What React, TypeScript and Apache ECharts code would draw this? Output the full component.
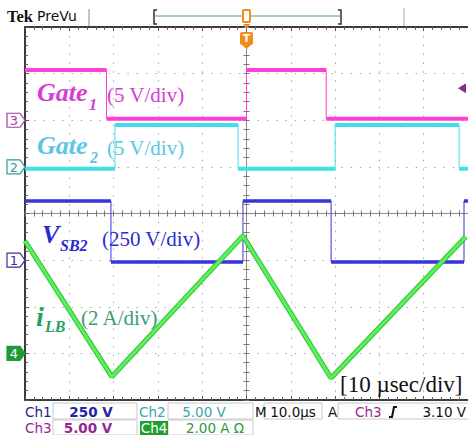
import React, { useEffect, useRef } from "react";
import * as echarts from "echarts";

// time in µs (10 µs/div, 10 divisions), vertical values in divisions (8 divisions, centre = 0)
const gate1Time = [0, 18.4, 18.4, 50, 50, 68, 68, 100];
const gate1Div = [3.08, 3.08, 2.03, 2.03, 3.08, 3.08, 2.03, 2.03];
const gate2Time = [0, 20.3, 20.3, 48.1, 48.1, 70, 70, 98, 98, 100];
const gate2Div = [0.96, 0.96, 1.9, 1.9, 0.96, 0.96, 1.9, 1.9, 0.96, 0.96];
const vsb2Time = [0, 19.4, 19.4, 49.2, 49.2, 69.1, 69.1, 99.1, 99.1, 100];
const vsb2Div = [0.27, 0.27, -1.04, -1.04, 0.27, 0.27, -1.04, -1.04, 0.27, 0.27];
const ilbTime = [0, 19.6, 49.2, 69.1, 99.5];
const ilbDiv = [-0.59, -3.5, -0.48, -3.53, -0.5];

const channelNames = ["3", "2", "1", "4"];
const channelOffsets = [2, 1, -1, -3];
const triggerLevelDiv = 2 + 3.1 / 5;

const row1Labels = ["Ch1", "Ch2", "M", "A"];
const row1Values = ["250 V", "5.00 V", "10.0µs", "3.10 V"];
const row2Labels = ["Ch3", "Ch4"];
const row2Values = ["5.00 V", "2.00 A Ω"];

const pairs = (xs: number[], ys: number[]) => xs.map((x, i) => [x, ys[i]]);
// flat (level) parts of a step waveform, separated by gaps
const levels = (xs: number[], ys: number[]) => {
  const out: any[] = [];
  for (let i = 0; i < xs.length - 1; i++) {
    if (ys[i] === ys[i + 1]) {
      out.push([xs[i], ys[i]], [xs[i + 1], ys[i + 1]], null);
    }
  }
  return out;
};

const GRID = { left: 25, top: 27, width: 443, height: 373 };

export default function App() {
  const ref = useRef<HTMLDivElement>(null);
  useEffect(() => {
    if (!ref.current) return;
    const chart = echarts.init(ref.current, undefined, { renderer: "svg" });

    const dotted = (dash: number[]) => ({
      show: true,
      lineStyle: { color: "#a8a8a8", width: 1, type: dash },
    });
    const borderAxis = (extra: any) => ({
      type: "value",
      axisLine: { show: true, onZero: false, lineStyle: { color: "#3c3c3c", width: 2 } },
      axisTick: { show: true, inside: true, length: 4, lineStyle: { color: "#555" } },
      minorTick: { show: true, splitNumber: 5, length: 3, lineStyle: { color: "#666" } },
      axisLabel: { show: false },
      ...extra,
    });
    const centreAxis = (extra: any, inside: boolean) => ({
      type: "value",
      axisLine: { show: true, onZero: true, lineStyle: { color: "#8a8a8a", width: 1 } },
      axisTick: { show: true, inside, length: 3, lineStyle: { color: "#777" } },
      minorTick: { show: true, splitNumber: 5, length: 3, lineStyle: { color: "#777" } },
      axisLabel: { show: false },
      splitLine: { show: false },
      ...extra,
    });

    const font = (size: number, opts: any = {}) => ({
      fontSize: size,
      fontFamily: opts.family || "Liberation Serif",
      fontWeight: opts.weight || "normal",
      fontStyle: opts.style || "normal",
    });
    const txt = (text: string, x: number, y: number, fill: string, f: any, align = "left") => ({
      type: "text",
      x,
      y,
      silent: true,
      z: 50,
      style: {
        text,
        fill,
        ...f,
        align,
        verticalAlign: "middle",
        textAlign: align,
        textVerticalAlign: "middle",
      },
    });

    const steps = [
      { name: "Gate1", xs: gate1Time, ys: gate1Div, color: "#ff3fd6", width: 4 },
      { name: "Gate2", xs: gate2Time, ys: gate2Div, color: "#3fe0e8", width: 4 },
      { name: "VSB2", xs: vsb2Time, ys: vsb2Div, color: "#3535da", width: 3.5 },
    ];
    const series: any[] = [];
    steps.forEach((s, i) => {
      series.push({
        type: "line",
        name: s.name,
        xAxisIndex: 0,
        yAxisIndex: 0,
        data: pairs(s.xs, s.ys),
        symbol: "none",
        z: 10 + i,
        lineStyle: { color: s.color, width: 1 },
        itemStyle: { color: s.color },
      });
      series.push({
        type: "line",
        name: s.name + " level",
        xAxisIndex: 0,
        yAxisIndex: 0,
        data: levels(s.xs, s.ys),
        symbol: "none",
        connectNulls: false,
        z: 10 + i,
        lineStyle: { color: s.color, width: s.width },
        itemStyle: { color: s.color },
      });
    });
    series.push({
      type: "line",
      name: "iLB edge",
      xAxisIndex: 0,
      yAxisIndex: 0,
      data: pairs(ilbTime, ilbDiv),
      symbol: "none",
      z: 20,
      lineStyle: { color: "#2fc23a", width: 5 },
    });
    series.push({
      type: "line",
      name: "iLB",
      xAxisIndex: 0,
      yAxisIndex: 0,
      data: pairs(ilbTime, ilbDiv),
      symbol: "none",
      z: 21,
      lineStyle: { color: "#5ef05a", width: 3 },
    });

    chart.setOption({
      animation: false,
      backgroundColor: "#ffffff",
      grid: [GRID, GRID, GRID].map((g) => ({ ...g, containLabel: false })),
      xAxis: [
        borderAxis({ gridIndex: 0, min: 0, max: 100, interval: 10, position: "bottom", splitLine: dotted([1.5, 7.36]) }),
        borderAxis({ gridIndex: 0, min: 0, max: 100, interval: 10, position: "top", splitLine: { show: false } }),
        centreAxis({ gridIndex: 1, min: -50, max: 50, interval: 10 }, true),
        centreAxis({ gridIndex: 2, min: -50, max: 50, interval: 10 }, false),
      ],
      yAxis: [
        borderAxis({ gridIndex: 0, min: -4, max: 4, interval: 1, position: "left", splitLine: dotted([1.5, 7.8]) }),
        centreAxis({ gridIndex: 1, min: -4, max: 4, interval: 1 }, true),
        centreAxis({ gridIndex: 2, min: -4, max: 4, interval: 1 }, false),
      ],
      series,
    });

    const yPx = (v: number) => chart.convertToPixel({ yAxisIndex: 0 }, v) as number;
    const chColors = [
      { stroke: "#a23ea2", fill: "#ffffff", text: "#a23ea2" },
      { stroke: "#2e9e9e", fill: "#ffffff", text: "#2e9e9e" },
      { stroke: "#34349e", fill: "#ffffff", text: "#34349e" },
      { stroke: "#1e9a3a", fill: "#1e9a3a", text: "#ffffff" },
    ];
    const markers: any[] = [];
    channelNames.forEach((n, i) => {
      const y = yPx(channelOffsets[i]);
      const c = chColors[i];
      markers.push({
        type: "polygon",
        z: 40,
        shape: { points: [[7, y - 7], [20, y - 7], [25, y], [20, y + 7], [7, y + 7]] },
        style: { fill: c.fill, stroke: c.stroke, lineWidth: 1.2 },
      });
      markers.push(txt(n, 14, y + 0.5, c.text, font(13, { family: "DejaVu Sans" }), "center"));
    });
    const ty = yPx(triggerLevelDiv) - 3;
    markers.push({
      type: "polygon",
      z: 40,
      shape: { points: [[458, ty], [466, ty - 5], [466, ty + 5]] },
      style: { fill: "#8a2a8a" },
    });

    const orange = "#f28a1c";
    const top: any[] = [
      txt("Tek", 7, 16, "#111", font(16.5, { weight: "bold" })),
      txt("PreVu", 37, 16, "#111", font(14, { family: "DejaVu Sans" })),
      { type: "line", shape: { x1: 89, y1: 9, x2: 89, y2: 26 }, style: { stroke: "#888", lineWidth: 1 } },
      { type: "line", shape: { x1: 155, y1: 16, x2: 340, y2: 16 }, style: { stroke: "#5aa65a", lineWidth: 1 } },
      { type: "polyline", shape: { points: [[157, 10], [154, 10], [154, 24], [157, 24]] }, style: { stroke: "#333", lineWidth: 1.5, fill: "none" } },
      { type: "polyline", shape: { points: [[338, 10], [341, 10], [341, 24], [338, 24]] }, style: { stroke: "#333", lineWidth: 1.5, fill: "none" } },
      { type: "line", shape: { x1: 404, y1: 8, x2: 404, y2: 26 }, style: { stroke: "#aaa", lineWidth: 1 } },
      { type: "rect", z: 45, shape: { x: 243, y: 10, width: 7, height: 12, r: 1 }, style: { stroke: orange, fill: "#fff", lineWidth: 2 } },
      { type: "polygon", z: 45, shape: { points: [[243, 24], [250, 24], [246.5, 29]] }, style: { fill: orange } },
      { type: "rect", z: 45, shape: { x: 240, y: 32, width: 13, height: 13, r: 2 }, style: { fill: orange } },
      txt("T", 246.5, 38.5, "#fff", font(11, { family: "DejaVu Sans", weight: "bold" }), "center"),
      { type: "polygon", z: 45, shape: { points: [[242, 45], [251, 45], [246.5, 49]] }, style: { fill: orange } },
    ];

    const mag = "#d63cd6";
    const cyan = "#5bc6e6";
    const blue = "#2b2bcf";
    const grn = "#22a45e";
    const grn2 = "#3a9c72";
    const labels: any[] = [
      txt("Gate", 37, 92, mag, font(26, { weight: "bold", style: "italic" })),
      txt("1", 89, 104, mag, font(16, { weight: "bold", style: "italic" })),
      txt("(5 V/div)", 107, 95, mag, font(21)),
      txt("Gate", 37, 145, cyan, font(26, { weight: "bold", style: "italic" })),
      txt("2", 90, 157, cyan, font(16, { weight: "bold", style: "italic" })),
      txt("(5 V/div)", 107, 148, cyan, font(21)),
      txt("V", 42, 234, blue, font(26, { weight: "bold", style: "italic" })),
      txt("SB2", 60, 245, blue, font(16, { weight: "bold", style: "italic" })),
      txt("(250 V/div)", 102, 239, blue, font(21)),
      txt("i", 36, 316, grn, font(28, { weight: "bold", style: "italic" })),
      txt("LB", 45, 326, grn, font(16, { weight: "bold", style: "italic" })),
      txt("(2 A/div)", 81, 318, grn2, font(21)),
      txt("[10 µsec/div]", 340, 384, "#111", font(23)),
    ];

    const sb = font(13.5, { family: "DejaVu Sans" });
    const sbb = font(13.5, { family: "DejaVu Sans", weight: "bold" });
    const box = (x: number, y: number, w: number, h: number) => ({
      type: "rect",
      shape: { x, y, width: w, height: h },
      style: { fill: "#fff", stroke: "#c8c8c8", lineWidth: 1 },
    });
    const status: any[] = [
      box(53, 403, 84, 16),
      box(168, 403, 85, 16),
      box(264, 403, 58, 16),
      box(338, 403, 131, 16),
      box(53, 420, 84, 15),
      box(168, 420, 85, 15),
      txt(row1Labels[0], 25, 412, "#1e1e8e", sb),
      txt(row1Values[0], 91, 412, "#2323a8", sbb, "center"),
      txt(row1Labels[1], 139, 412, "#3aa5a5", sb),
      txt(row1Values[1], 204, 412, "#3aa5a5", sb, "center"),
      txt(row1Labels[2], 255, 412, "#111", sb),
      txt(row1Values[2], 293, 412, "#111", sb, "center"),
      txt(row1Labels[3], 328, 412, "#111", sb),
      txt("Ch3", 355, 412, "#9a2a9a", sb),
      { type: "polyline", shape: { points: [[389, 417], [392, 417], [394, 407], [397, 407]] }, style: { stroke: "#111", lineWidth: 2, fill: "none" } },
      txt(row1Values[3], 466, 412, "#111", sb, "right"),
      txt(row2Labels[0], 25, 428, "#962896", sb),
      txt(row2Values[0], 88, 428, "#962896", sbb, "center"),
      { type: "rect", shape: { x: 140, y: 421, width: 28, height: 14 }, style: { fill: "#1e9e2e" } },
      txt(row2Labels[1], 154, 428, "#fff", sb, "center"),
      txt(row2Values[1], 215, 428, "#2a9a3a", sb, "center"),
    ];

    chart.setOption({ graphic: { elements: [...markers, ...top, ...labels, ...status] } });

    return () => chart.dispose();
  }, []);
  return <div ref={ref} style={{ position: "absolute", left: 0, top: 0, width: 468, height: 435 }} />;
}
